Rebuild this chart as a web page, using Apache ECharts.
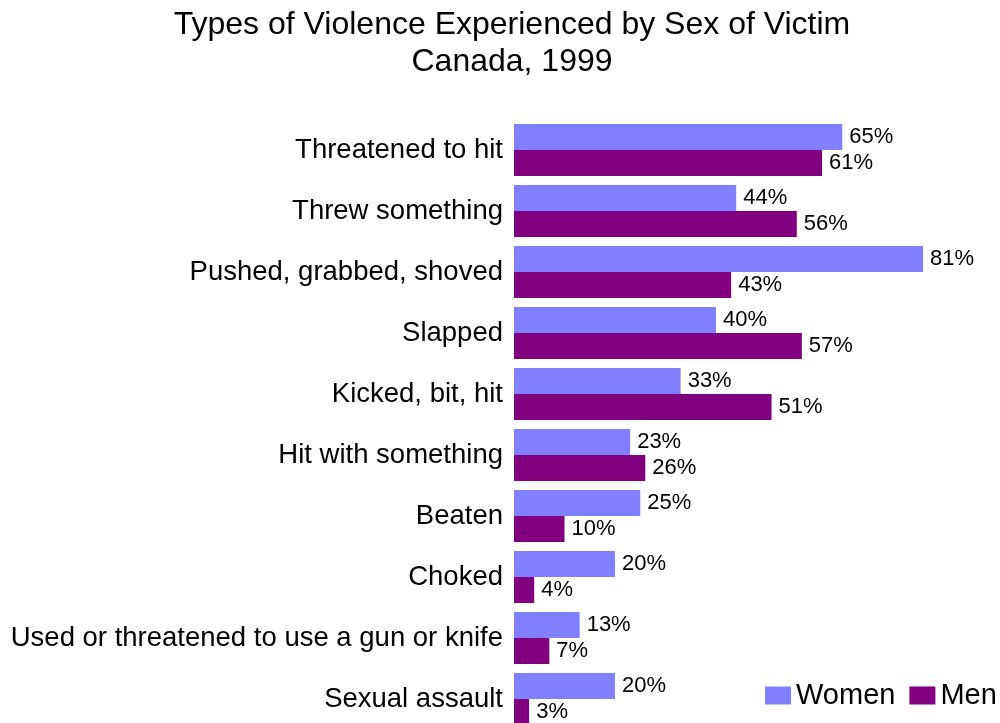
<!DOCTYPE html>
<html>
<head>
<meta charset="utf-8">
<script src="https://cdn.jsdelivr.net/npm/echarts@6/dist/echarts.min.js"></script>
<style>
  html, body { margin: 0; padding: 0; background: #fff; }
  #chart { width: 1000px; height: 723px; }
</style>
</head>
<body>
<div id="chart"></div>
<script>
// Types of violence, share of victims by sex (percent)
const categories = [
  'Threatened to hit',
  'Threw something',
  'Pushed, grabbed, shoved',
  'Slapped',
  'Kicked, bit, hit',
  'Hit with something',
  'Beaten',
  'Choked',
  'Used or threatened to use a gun or knife',
  'Sexual assault'
];
const women = [65, 44, 81, 40, 33, 23, 25, 20, 13, 20];
const men   = [61, 56, 43, 57, 51, 26, 10, 4, 7, 3];

const FONT = 'Liberation Sans, Arial, sans-serif';

const chart = echarts.init(document.getElementById('chart'), null, { renderer: 'canvas' });

const valueLabel = {
  show: true,
  position: 'right',
  distance: 7,
  formatter: p => p.value + '%',
  color: '#000',
  fontFamily: FONT,
  fontSize: 22
};

chart.setOption({
  animation: false,
  backgroundColor: '#fff',
  title: {
    text: 'Types of Violence Experienced by Sex of Victim\nCanada, 1999',
    left: 507,
    textAlign: 'center',
    top: 2,
    textStyle: {
      fontFamily: FONT,
      fontSize: 32,
      fontWeight: 'normal',
      color: '#000',
      lineHeight: 37
    }
  },
  legend: {
    data: ['Women', 'Men'],
    left: 765,
    top: 681,
    width: 235,
    padding: 0,
    itemWidth: 26,
    itemHeight: 18,
    itemGap: 14,
    icon: 'rect',
    textStyle: { fontFamily: FONT, fontSize: 29, color: '#000' }
  },
  grid: {
    left: 514,
    width: 454.5,
    top: 119.5,
    height: 610,
    containLabel: false,
    outerBoundsMode: 'none'
  },
  xAxis: {
    type: 'value',
    min: 0,
    max: 90,
    show: false
  },
  yAxis: {
    type: 'category',
    data: categories,
    inverse: true,
    axisLine: { show: false },
    axisTick: { show: false },
    splitLine: { show: false },
    axisLabel: {
      margin: 11,
      color: '#000',
      fontFamily: FONT,
      fontSize: 27.5
    }
  },
  series: [
    {
      name: 'Women',
      type: 'bar',
      data: women,
      barWidth: 26,
      barGap: '0%',
      barCategoryGap: '15%',
      itemStyle: { color: '#8080FF' },
      label: valueLabel
    },
    {
      name: 'Men',
      type: 'bar',
      data: men,
      barWidth: 26,
      barGap: '0%',
      itemStyle: { color: '#800080' },
      label: valueLabel
    }
  ]
});
</script>
</body>
</html>
